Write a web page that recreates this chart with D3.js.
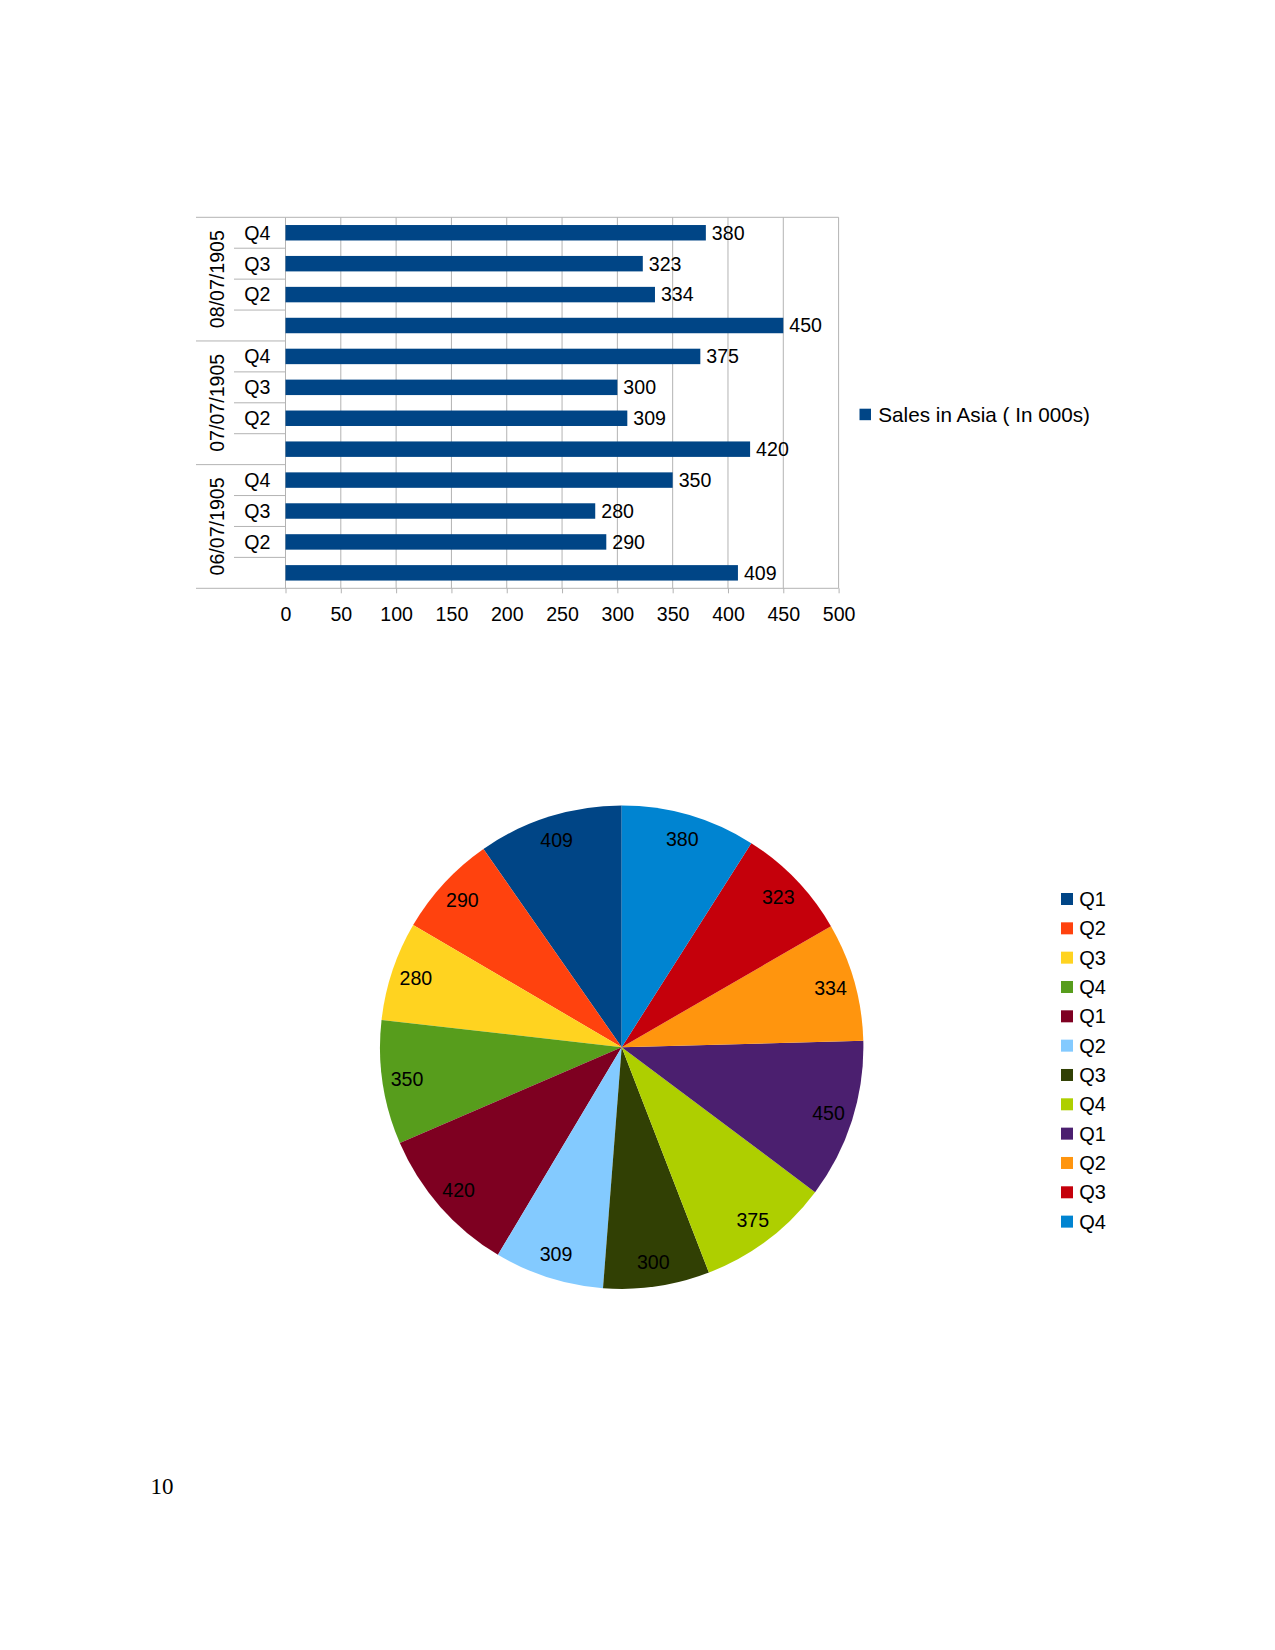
<!DOCTYPE html>
<html>
<head>
<meta charset="utf-8">
<script src="https://cdn.jsdelivr.net/npm/d3@7"></script>
<style>
  html, body { margin: 0; padding: 0; background: #fff; }
  svg { display: block; }
  text { font-family: "Liberation Sans", Arial, sans-serif; fill: #000; }
</style>
</head>
<body>
<svg id="page" width="1275" height="1650"></svg>
<script>
// ---- data ----
const dates = ["06/07/1905", "07/07/1905", "08/07/1905"];
const quarters = ["Q1", "Q2", "Q3", "Q4"];
const quarterAxisLabels = ["", "Q2", "Q3", "Q4"];   // Q1 label not shown on the bar chart axis
const sales = [409, 290, 280, 350, 420, 309, 300, 375, 450, 334, 323, 380];
const xTicks = [0, 50, 100, 150, 200, 250, 300, 350, 400, 450, 500];
const seriesName = "Sales in Asia ( In 000s)";
const barColor = "#004586";
const pieColors = ["#004586", "#ff420e", "#ffd320", "#579d1c", "#7e0021", "#83caff",
                   "#314004", "#aecf00", "#4b1f6f", "#ff950e", "#c5000b", "#0084d1"];
const pageNumber = "10";

const svg = d3.select("#page");
svg.append("rect").attr("width", 1275).attr("height", 1650).attr("fill", "#fff");

// ---- bar chart ----
const gridColor = "#b3b3b3";
const plot = { left: 285.5, right: 838.6, top: 217.3, bottom: 588.3 };
const x = d3.scaleLinear().domain([0, 500]).range([plot.left, plot.right]);
const idx = d3.range(sales.length);
const y = d3.scaleBand().domain(idx).range([plot.bottom, plot.top])
  .paddingInner(0.5).paddingOuter(0.25);
const step = y.step();

const bar = svg.append("g");
// vertical gridlines
bar.selectAll("line.grid").data(xTicks).join("line")
  .attr("x1", d => x(d)).attr("x2", d => x(d))
  .attr("y1", plot.top).attr("y2", plot.bottom)
  .attr("stroke", gridColor).attr("stroke-width", 1);
// top border
bar.append("line").attr("x1", plot.left).attr("x2", plot.right)
  .attr("y1", plot.top).attr("y2", plot.top).attr("stroke", gridColor);

// x axis
const xAxis = d3.axisBottom(x).tickValues(xTicks).tickSize(5).tickPadding(14);
const gx = bar.append("g").attr("transform", `translate(0,${plot.bottom})`).call(xAxis);
gx.select(".domain").remove();
gx.selectAll(".tick line").attr("stroke", gridColor);
gx.selectAll(".tick text").attr("font-size", "19.6px")
  .attr("font-family", "Liberation Sans, Arial, sans-serif").attr("fill", "#000");
bar.append("line").attr("x1", 196).attr("x2", plot.right)
  .attr("y1", plot.bottom).attr("y2", plot.bottom).attr("stroke", gridColor);
bar.append("line").attr("x1", 196).attr("x2", plot.left)
  .attr("y1", plot.top).attr("y2", plot.top).attr("stroke", gridColor);

// category separators
const boundaries = d3.range(1, sales.length);
bar.selectAll("line.sep").data(boundaries).join("line")
  .attr("x1", d => d % 4 === 0 ? 196 : 234)
  .attr("x2", plot.left)
  .attr("y1", d => plot.bottom - d * step).attr("y2", d => plot.bottom - d * step)
  .attr("stroke", gridColor);

// bars
bar.selectAll("rect.bar").data(idx).join("rect")
  .attr("x", x(0)).attr("y", i => y(i))
  .attr("width", i => x(sales[i]) - x(0)).attr("height", y.bandwidth())
  .attr("fill", barColor);
// data labels
bar.selectAll("text.val").data(idx).join("text")
  .attr("x", i => x(sales[i]) + 6).attr("y", i => y(i) + y.bandwidth() / 2)
  .attr("dy", "0.35em").attr("font-size", "19.6px").text(i => sales[i]);
// quarter labels
bar.selectAll("text.q").data(idx).join("text")
  .attr("x", 270.5).attr("y", i => y(i) + y.bandwidth() / 2)
  .attr("dy", "0.35em").attr("text-anchor", "end").attr("font-size", "19.6px")
  .text(i => quarterAxisLabels[i % 4]);
// group date labels
bar.selectAll("text.date").data(dates).join("text")
  .attr("transform", (d, g) => {
    const cy = plot.bottom - (g * 4 + 2) * step;
    return `translate(217.5,${cy}) rotate(-90)`;
  })
  .attr("dy", "0.35em").attr("text-anchor", "middle").attr("font-size", "19.6px")
  .text(d => d);
// legend
svg.append("rect").attr("x", 859.5).attr("y", 408.7).attr("width", 11.5).attr("height", 11.5).attr("fill", barColor);
svg.append("text").attr("x", 878.3).attr("y", 414.5).attr("dy", "0.35em")
  .attr("font-size", "20.7px").text(seriesName);

// ---- pie chart ----
const cx = 621.7, cy = 1047.2, R = 241.7;
const pie = d3.pie().sort(null).startAngle(0).endAngle(-2 * Math.PI);
const arcs = pie(sales);
const arc = d3.arc().innerRadius(0).outerRadius(R);
const labelArc = d3.arc().innerRadius(217).outerRadius(217);
const pg = svg.append("g").attr("transform", `translate(${cx},${cy})`);
pg.selectAll("path").data(arcs).join("path")
  .attr("d", arc).attr("fill", (d, i) => pieColors[i]);
pg.selectAll("text").data(arcs).join("text")
  .attr("transform", d => `translate(${labelArc.centroid(d)})`)
  .attr("dy", "0.35em").attr("text-anchor", "middle").attr("font-size", "19.6px")
  .text(d => d.data);

// pie legend
const lg = svg.append("g");
const legendRows = sales.map((v, i) => ({ label: quarters[i % 4], color: pieColors[i] }));
lg.selectAll("rect").data(legendRows).join("rect")
  .attr("x", 1061).attr("y", (d, i) => 899 + i * 29.33 - 6)
  .attr("width", 12).attr("height", 12).attr("fill", d => d.color);
lg.selectAll("text").data(legendRows).join("text")
  .attr("x", 1079.3).attr("y", (d, i) => 899 + i * 29.33)
  .attr("dy", "0.35em").attr("font-size", "20px").text(d => d.label);

// page number
svg.append("text").attr("x", 150.5).attr("y", 1493.5)
  .style("font-family", "'Liberation Serif', 'Times New Roman', serif")
  .attr("font-size", "23px").text(pageNumber);
</script>
</body>
</html>
